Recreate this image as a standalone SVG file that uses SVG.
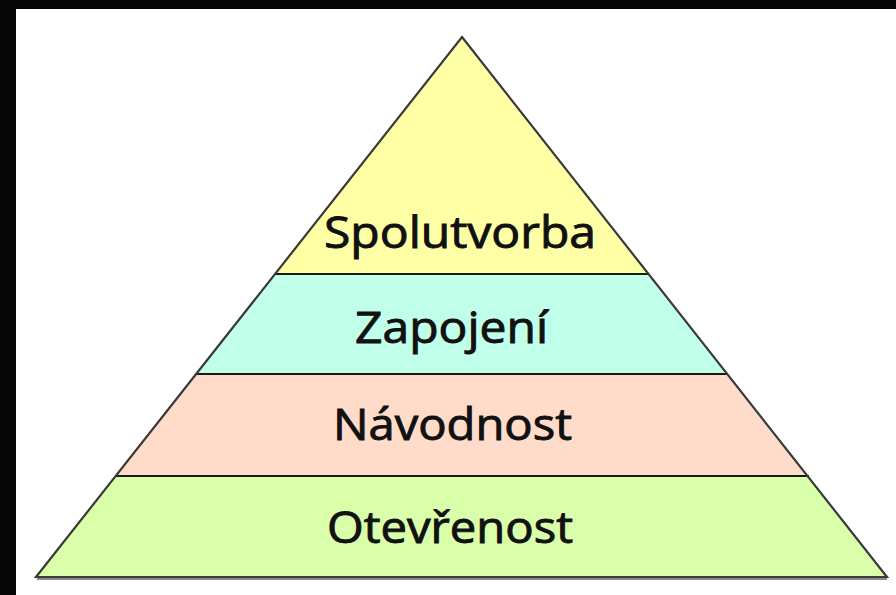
<svg xmlns="http://www.w3.org/2000/svg" width="896" height="595" viewBox="0 0 896 595">
<style>
.band{stroke:none}
.div{stroke:#1a1a1a;stroke-width:2}
.lbl{font-family:"Open Sans","Noto Sans",sans-serif;font-size:43px;fill:#111;stroke:#111;stroke-width:0.9;text-anchor:middle}
</style>
<rect x="0" y="0" width="896" height="595" fill="#ffffff"/>
<rect x="0" y="0" width="896" height="9" fill="#050505"/>
<rect x="0" y="0" width="16" height="595" fill="#050505"/>
<g id="shadow"><line x1="37" y1="579" x2="887" y2="579" stroke="#8a8a80" stroke-width="2"/></g>
<g id="layer-spolutvorba">
<polygon class="band" points="462,37 275,274 649,274" fill="#ffffa6"/>
<text class="lbl" x="460" y="248" textLength="272" lengthAdjust="spacingAndGlyphs">Spolutvorba</text>
</g>
<g id="layer-zapojeni">
<polygon class="band" points="275,274 649,274 728,374 196,374" fill="#c0ffea"/>
<text class="lbl" x="451.5" y="343" textLength="193" lengthAdjust="spacingAndGlyphs">Zapojení</text>
</g>
<g id="layer-navodnost">
<polygon class="band" points="196,374 728,374 809,476 115,476" fill="#ffdcca"/>
<text class="lbl" x="452.5" y="440" textLength="239" lengthAdjust="spacingAndGlyphs">Návodnost</text>
</g>
<g id="layer-otevrenost">
<polygon class="band" points="115,476 809,476 887,577 36,577" fill="#d9ffaa"/>
<text class="lbl" x="450" y="543" textLength="246" lengthAdjust="spacingAndGlyphs">Otevřenost</text>
</g>
<g id="connectors">
<line class="div" x1="275" y1="274" x2="649" y2="274"/>
<line class="div" x1="196" y1="374" x2="728" y2="374" stroke="#4a5a50"/>
<line class="div" x1="115" y1="476" x2="809" y2="476"/>
<polygon points="462,37 887,577 36,577" fill="none" stroke="#3a3a3a" stroke-width="2.2" stroke-linejoin="miter"/>
</g>
</svg>
